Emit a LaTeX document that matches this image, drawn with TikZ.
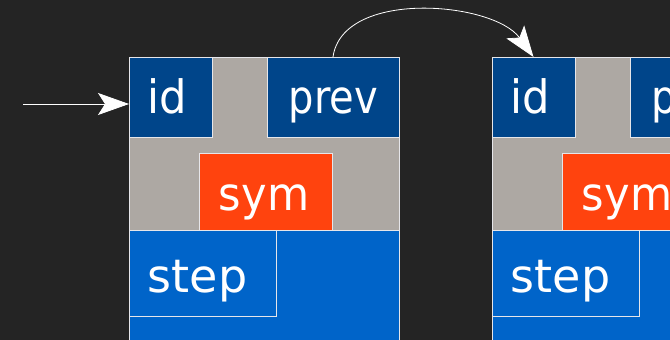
\documentclass[tikz,border=0pt]{standalone}
\usepackage{fontspec}
\usepackage{graphicx}
\setmainfont{DejaVu Sans}
\usetikzlibrary{arrows.meta}
\definecolor{bgc}{HTML}{242424}
\definecolor{navy}{HTML}{00458A}
\definecolor{graybox}{HTML}{ADA8A3}
\definecolor{orangebox}{HTML}{FF430E}
\definecolor{bluebox}{HTML}{0064C9}
\definecolor{edge}{HTML}{E6E6EA}
\tikzset{
  cell/.style={draw=edge, line width=0.8pt, inner sep=0pt, outer sep=0pt},
  txt/.style={text=white, font=\fontsize{46}{46}\selectfont, anchor=base, inner sep=0pt},
  link/.style={draw=white, line width=0.8pt, -{Stealth[length=31pt,width=22pt,inset=7pt]}}
}
\begin{document}
\begin{tikzpicture}[x=1pt,y=1pt]
\useasboundingbox (0,0) rectangle (670,340);
\clip (0,0) rectangle (670,340);
\fill[bgc] (0,0) rectangle (670,340);
\foreach \o/\n in {0/1,363/2}{
  \begin{scope}[xshift=\o pt]
    \path[cell, fill=bluebox] (129,-5) rectangle (399,110);
    \path[cell, fill=graybox] (129,110) rectangle (399,283);
    \node[cell, fill=navy, minimum width=83pt, minimum height=80pt, anchor=south west] (id\n) at (129,203) {};
    \node[cell, fill=navy, minimum width=132pt, minimum height=80pt, anchor=south west] (prev\n) at (267,203) {};
    \node[cell, fill=orangebox, minimum width=133pt, minimum height=77pt, anchor=south west] (sym\n) at (199,110) {};
    \node[cell, fill=bluebox, minimum width=147pt, minimum height=86pt, anchor=south west] (step\n) at (129,24) {};
    \node[txt] (tid\n) at (167.5,226) {\scalebox{0.94}[1]{id}};
    \node[txt] (tprev\n) at (333.5,226) {\scalebox{0.87}[1]{prev}};
    \node[txt] (tsym\n) at (264,129) {\scalebox{0.94}[1]{sym}};
    \node[txt] (tstep\n) at (197.5,47) {step};
  \end{scope}
}
\coordinate (start) at (23,236);
\draw[link] (start) -- (start -| id1.west);
\draw[link] (prev1.north) to[out=82, in=126, looseness=0.88] (id2.north);
\end{tikzpicture}
\end{document}
